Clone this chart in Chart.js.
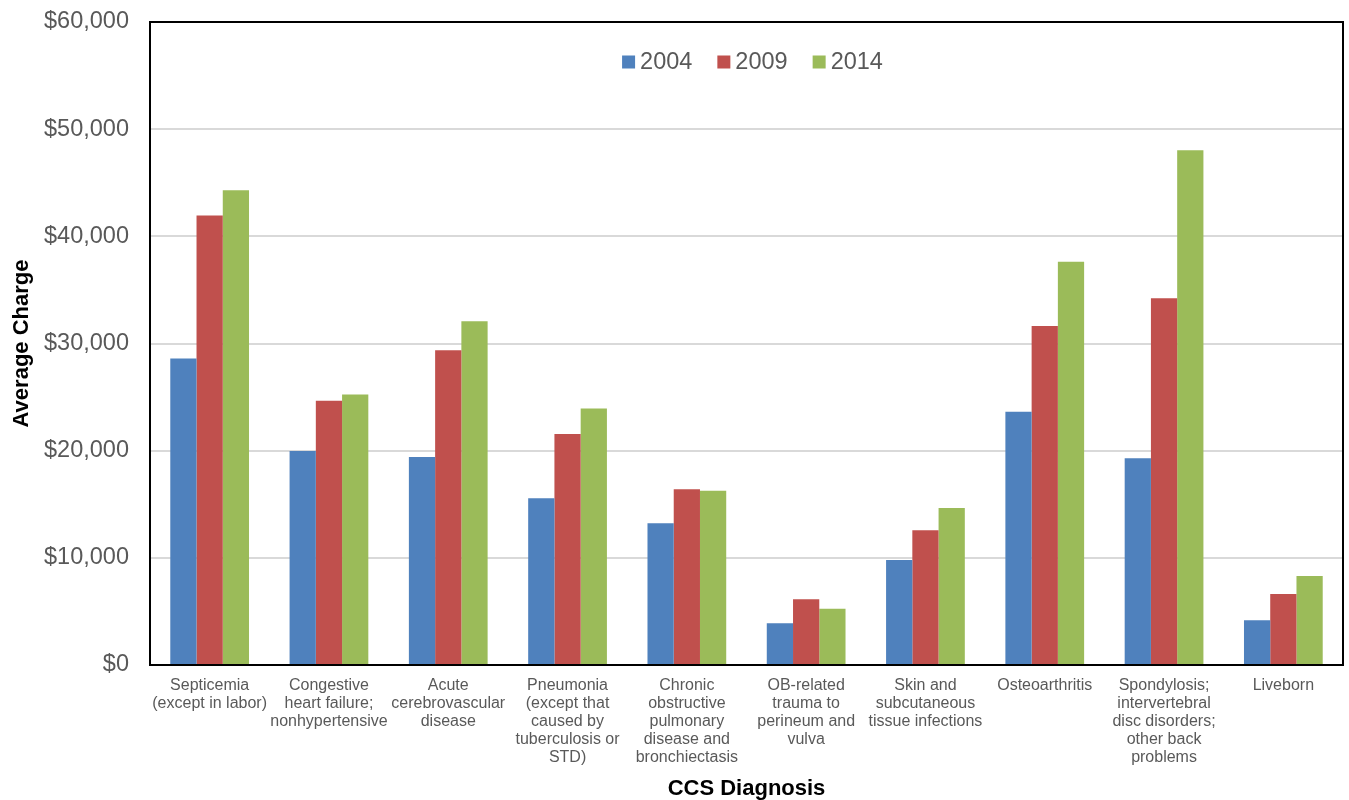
<!DOCTYPE html>
<html>
<head>
<meta charset="utf-8">
<script src="https://cdn.jsdelivr.net/npm/chart.js@4/dist/chart.umd.min.js"></script>
<style>
  html, body { margin: 0; padding: 0; background: #ffffff; }
  #wrap { width: 1349px; height: 800px; position: relative; }
</style>
</head>
<body>
<div id="wrap"><canvas id="chart" width="1349" height="800"></canvas></div>
<script>
// Diagnosis categories (multi-line tick labels)
const categories = [
  ["Septicemia", "(except in labor)"],
  ["Congestive", "heart failure;", "nonhypertensive"],
  ["Acute", "cerebrovascular", "disease"],
  ["Pneumonia", "(except that", "caused by", "tuberculosis or", "STD)"],
  ["Chronic", "obstructive", "pulmonary", "disease and", "bronchiectasis"],
  ["OB-related", "trauma to", "perineum and", "vulva"],
  ["Skin and", "subcutaneous", "tissue infections"],
  ["Osteoarthritis"],
  ["Spondylosis;", "intervertebral", "disc disorders;", "other back", "problems"],
  ["Liveborn"]
];

const seriesNames = ["2004", "2009", "2014"];

// Average charge per diagnosis, in dollars
const charges2004 = [28600, 19970, 19400, 15560, 13230, 3900, 9790, 23640, 19300, 4180];
const charges2009 = [41950, 24650, 29380, 21550, 16400, 6140, 12570, 31640, 34220, 6620];
const charges2014 = [44300, 25240, 32070, 23930, 16250, 5260, 14640, 37620, 48040, 8300];

const yTicks = [0, 10000, 20000, 30000, 40000, 50000, 60000];

const seriesColors = ["#4F81BD", "#C0504D", "#9BBB59"];
const FONT = "'Liberation Sans', Arial, Helvetica, sans-serif";

// Black frame around the plotting area
const frame = {
  id: 'frame',
  afterDatasetsDraw(chart) {
    const {ctx, chartArea: a} = chart;
    ctx.save();
    ctx.strokeStyle = '#000000';
    ctx.lineWidth = 2;
    ctx.strokeRect(a.left, a.top, a.right - a.left, a.bottom - a.top);
    ctx.restore();
  }
};

// Legend drawn inside the plotting area, near its top
const innerLegend = {
  id: 'innerLegend',
  afterDraw(chart) {
    const {ctx, chartArea: a} = chart;
    const box = 13, gap = 5, spacing = 25;
    ctx.save();
    ctx.font = `23.5px ${FONT}`;
    ctx.textBaseline = 'middle';
    const items = chart.data.datasets.map(d => ({
      label: d.label, color: d.backgroundColor, w: ctx.measureText(d.label).width
    }));
    const total = items.reduce((s, it) => s + box + gap + it.w, 0) + spacing * (items.length - 1);
    let x = (a.left + a.right) / 2 + 6 - total / 2;
    const cy = a.top + 40;
    items.forEach(it => {
      ctx.fillStyle = it.color;
      ctx.fillRect(x, cy - box / 2, box, box);
      ctx.fillStyle = '#595959';
      ctx.fillText(it.label, x + box + gap, cy + 1);
      x += box + gap + it.w + spacing;
    });
    ctx.restore();
  }
};

const seriesValues = [charges2004, charges2009, charges2014];

new Chart(document.getElementById('chart'), {
  type: 'bar',
  data: {
    labels: categories,
    datasets: seriesNames.map((name, i) => ({
      label: name,
      data: seriesValues[i],
      backgroundColor: seriesColors[i],
      borderWidth: 0,
      categoryPercentage: 0.66,
      barPercentage: 1.0
    }))
  },
  options: {
    responsive: false,
    animation: false,
    devicePixelRatio: 1,
    layout: { padding: { top: 22, right: 6, left: 0, bottom: 0 } },
    plugins: {
      legend: { display: false },
      tooltip: { enabled: false }
    },
    scales: {
      x: {
        grid: { display: false, drawTicks: false },
        border: { display: false },
        ticks: {
          color: '#595959',
          font: { family: FONT, size: 16, lineHeight: 1.125 },
          padding: 12,
          maxRotation: 0,
          minRotation: 0,
          autoSkip: false
        },
        title: {
          display: true,
          text: 'CCS Diagnosis',
          color: '#000000',
          font: { family: FONT, size: 22, weight: 'bold', lineHeight: 1.0 },
          padding: { top: 0, bottom: 0 }
        },
        afterFit(scale) { scale.height = 135; }
      },
      y: {
        min: 0,
        max: 60000,
        afterBuildTicks(scale) { scale.ticks = yTicks.map(v => ({ value: v })); },
        grid: { color: '#d9d9d9', lineWidth: 2, drawTicks: false },
        border: { display: false },
        ticks: {
          color: '#595959',
          font: { family: FONT, size: 23.5 },
          padding: 21,
          callback: v => '$' + Number(v).toLocaleString('en-US')
        },
        title: {
          display: true,
          text: 'Average Charge',
          color: '#000000',
          font: { family: FONT, size: 22, weight: 'bold', lineHeight: 1.2 },
          padding: { top: 9, bottom: 0 }
        },
        afterFit(scale) {
          scale.width = 150;
          scale.paddingTop = 0;
          scale.paddingBottom = 0;
        }
      }
    }
  },
  plugins: [frame, innerLegend]
});
</script>
</body>
</html>
